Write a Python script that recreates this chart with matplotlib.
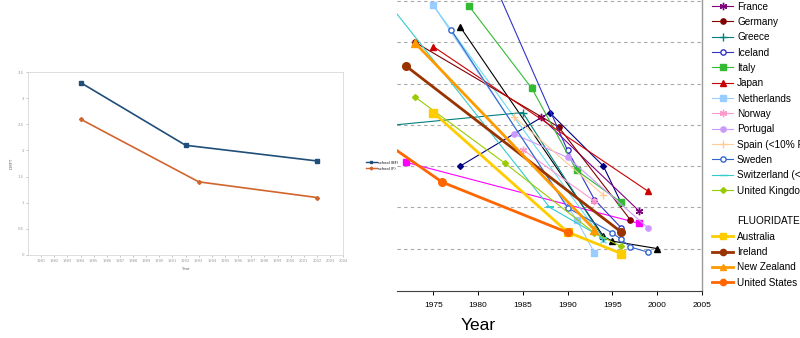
import numpy as np
import matplotlib
matplotlib.use("Agg")
import matplotlib.pyplot as plt
from matplotlib.lines import Line2D

### LEFT CHART DATA ###
bf_years = [1984, 1992, 2002]
bf_dmft = [3.3, 2.1, 1.8]
f_years = [1984, 1993, 2002]
f_dmft = [2.6, 1.4, 1.1]
left_xticks = list(range(1981, 2005))
left_yticks = [0, 0.5, 1, 1.5, 2, 2.5, 3, 3.5]

### RIGHT CHART DATA (DMFT of 12 year olds) ###
austria_yr = [1978, 1988, 1994, 1996]
austria_dmft = [3.0, 4.3, 3.0, 2.1]
belgium_yr = [1972, 1998]
belgium_dmft = [3.09, 1.61]
denmark_yr = [1978, 1994, 1995, 2000]
denmark_dmft = [6.38, 1.3, 1.18, 1.0]
finland_yr = [1975, 1994]
finland_dmft = [6.9, 1.2]
france_yr = [1987, 1998]
france_dmft = [4.19, 1.91]
germany_yr = [1973, 1989, 1997]
germany_dmft = [6.0, 3.95, 1.7]
greece_yr = [1966, 1985, 1994]
greece_dmft = [3.9, 4.3, 1.25]
iceland_yr = [1981, 1990, 1993, 1996]
iceland_dmft = [7.83, 3.38, 2.19, 1.5]
italy_yr = [1979, 1986, 1991, 1996]
italy_dmft = [6.88, 4.89, 2.9, 2.12]
japan_yr = [1975, 1999]
japan_dmft = [5.9, 2.39]
netherlands_yr = [1975, 1991, 1993]
netherlands_dmft = [6.9, 1.7, 0.9]
norway_yr = [1985, 1993]
norway_dmft = [3.4, 2.15]
portugal_yr = [1984, 1990, 1999]
portugal_dmft = [3.78, 3.21, 1.5]
spain_yr = [1984, 1994]
spain_dmft = [4.2, 2.3]
sweden_yr = [1977, 1990, 1995, 1996, 1997, 1999]
sweden_dmft = [6.3, 1.99, 1.38, 1.22, 1.04, 0.91]
switzerland_yr = [1970, 1988, 1994]
switzerland_dmft = [6.95, 2.0, 1.25]
uk_yr = [1973, 1983, 1993, 1996]
uk_dmft = [4.67, 3.07, 1.38, 1.05]

australia_yr = [1975, 1990, 1996]
australia_dmft = [4.3, 1.4, 0.88]
ireland_yr = [1972, 1996]
ireland_dmft = [5.42, 1.4]
nz_yr = [1973, 1993]
nz_dmft = [5.98, 1.46]
us_yr = [1970, 1976, 1990]
us_dmft = [3.52, 2.61, 1.39]

right_xticks = [1975, 1980, 1985, 1990, 1995, 2000, 2005]

fig = plt.figure(figsize=(8, 3.38), dpi=100)

### LEFT PANEL ###
ax1 = fig.add_axes([0.035, 0.2456, 0.394, 0.541])
ax1.plot(bf_years, bf_dmft, color='#1F4E79', lw=1.2, marker='s', ms=3)
ax1.plot(f_years, f_dmft, color='#D2642E', lw=1.2, marker='D', ms=2)
ax1.set_xlim(1980, 2004)
ax1.set_ylim(0, 3.5)
ax1.set_xticks(left_xticks)
ax1.set_xticklabels([str(y) for y in left_xticks], fontsize=2.6, color='#666666')
ax1.set_yticks(left_yticks)
ax1.set_yticklabels([('%g' % v) for v in left_yticks], fontsize=2.8, color='#666666')
ax1.tick_params(length=1.5, width=0.4, colors='#999999', pad=1.5)
for s in ax1.spines.values():
    s.set_color('#D8D8D8')
    s.set_linewidth(0.6)
ax1.set_xlabel('Year', fontsize=3, color='#666666', labelpad=3)
ax1.set_ylabel('DMFT', fontsize=3, color='#666666', labelpad=3)
fig.legend(handles=[Line2D([], [], color='#1F4E79', lw=1, marker='s', ms=2),
                    Line2D([], [], color='#D2642E', lw=1, marker='D', ms=1.5)],
           labels=['school (BF)', 'school (F)'], loc='center left',
           bbox_to_anchor=(0.455, 0.51), fontsize=2.6, frameon=False,
           handlelength=3, labelspacing=0.6, borderpad=0, handletextpad=0.5)

### RIGHT PANEL ###
ax2 = fig.add_axes([0.4963, 0.139, 0.381, 0.861])
thin = 0.8
thick = 2.0
sm = 3.8   # marker size, unfluoridated
bm = 5.5   # marker size, fluoridated

ax2.plot(austria_yr, austria_dmft, color='#000080', lw=thin, marker='D', ms=sm - 0.8)
ax2.plot(belgium_yr, belgium_dmft, color='#FF00FF', lw=thin, marker='s', ms=sm)
ax2.plot(denmark_yr, denmark_dmft, color='#000000', lw=thin, marker='^', ms=sm + 0.5)
ax2.plot(finland_yr, finland_dmft, color='#66DDEE', lw=thin, marker='x', ms=sm + 0.5)
ax2.plot(france_yr, france_dmft, color='#800080', lw=thin, marker=(6, 2, 0), ms=sm + 1.5)
ax2.plot(germany_yr, germany_dmft, color='#800000', lw=thin, marker='o', ms=sm)
ax2.plot(greece_yr, greece_dmft, color='#008080', lw=thin, marker='+', ms=sm + 1.5)
ax2.plot(iceland_yr, iceland_dmft, color='#3333CC', lw=thin, marker='o', ms=sm, mfc='white')
ax2.plot(italy_yr, italy_dmft, color='#33BB33', lw=thin, marker='s', ms=sm)
ax2.plot(japan_yr, japan_dmft, color='#CC0000', lw=thin, marker='^', ms=sm + 0.5)
ax2.plot(netherlands_yr, netherlands_dmft, color='#99CCFF', lw=thin, marker='s', ms=sm)
ax2.plot(norway_yr, norway_dmft, color='#FF99CC', lw=thin, marker=(6, 2, 0), ms=sm + 1.5)
ax2.plot(portugal_yr, portugal_dmft, color='#CC99FF', lw=thin, marker='o', ms=sm)
ax2.plot(spain_yr, spain_dmft, color='#FFCC99', lw=thin, marker='+', ms=sm + 1.5)
ax2.plot(sweden_yr, sweden_dmft, color='#3366CC', lw=thin, marker='o', ms=sm, mfc='white')
ax2.plot(switzerland_yr, switzerland_dmft, color='#33CCCC', lw=thin, marker='_', ms=sm + 1.5, mew=1.5)
ax2.plot(uk_yr, uk_dmft, color='#99CC00', lw=thin, marker='D', ms=sm - 0.8)

ax2.plot(australia_yr, australia_dmft, color='#FFCC00', lw=thick, marker='s', ms=bm)
ax2.plot(ireland_yr, ireland_dmft, color='#993300', lw=thick, marker='o', ms=bm)
ax2.plot(nz_yr, nz_dmft, color='#FF9900', lw=thick, marker='^', ms=bm + 0.5)
ax2.plot(us_yr, us_dmft, color='#FF6600', lw=thick, marker='o', ms=bm)

ax2.set_xlim(1970.95, 2004.96)
ax2.set_ylim(-0.03, 7.03)
ax2.set_yticks([])
ax2.set_xticks(right_xticks)
ax2.set_xticklabels([str(y) for y in right_xticks], fontsize=6, family='Liberation Sans')
ax2.tick_params(axis='x', direction='out', length=3, width=0.7, pad=5)
for g in [1, 2, 3, 4, 5, 6, 7]:
    ax2.axhline(g, color='#A8A8A8', lw=0.8, ls=(0, (3, 3)), zorder=0)
ax2.spines['left'].set_visible(False)
ax2.spines['top'].set_visible(False)
ax2.spines['right'].set_color('#9A9A9A')
ax2.spines['right'].set_linewidth(1.0)
ax2.spines['bottom'].set_color('#404040')
ax2.spines['bottom'].set_linewidth(0.8)
fig.text(478 / 800, 1 - 325 / 338, 'Year', fontsize=12.5, family='Liberation Sans',
         ha='center', va='center')

def entry(color, marker, lw=thin, ms=3.8, mfc=None):
    return Line2D([], [], color=color, lw=lw, marker=marker, ms=ms,
                  mfc=mfc if mfc else color)

handles = [entry('#800080', (6, 2, 0), ms=5.3), entry('#800000', 'o'),
           entry('#008080', '+', ms=5.3), entry('#3333CC', 'o', mfc='white'),
           entry('#33BB33', 's'), entry('#CC0000', '^', ms=4.3),
           entry('#99CCFF', 's'), entry('#FF99CC', (6, 2, 0), ms=5.3),
           entry('#CC99FF', 'o'), entry('#FFCC99', '+', ms=5.3),
           entry('#3366CC', 'o', mfc='white'), entry('#33CCCC', '_', ms=5.3),
           entry('#99CC00', 'D', ms=3),
           Line2D([], [], ls='none'), Line2D([], [], ls='none'),
           entry('#FFCC00', 's', lw=thick, ms=4.5), entry('#993300', 'o', lw=thick, ms=4.5),
           entry('#FF9900', '^', lw=thick, ms=4.5), entry('#FF6600', 'o', lw=thick, ms=4.5)]
labels = ['France', 'Germany', 'Greece', 'Iceland', 'Italy', 'Japan', 'Netherlands',
          'Norway', 'Portugal', 'Spain (<10% F)', 'Sweden', 'Switzerland (<3% F)',
          'United Kingdom', '', 'FLUORIDATED', 'Australia', 'Ireland',
          'New Zealand', 'United States']
leg = ax2.legend(handles, labels, loc='upper left', bbox_to_anchor=(712 / 800, 1 - 1.5 / 338),
                 bbox_transform=fig.transFigure, frameon=False, borderpad=0,
                 borderaxespad=0, handlelength=2.1, handletextpad=0.4,
                 labelspacing=0.535, prop={'family': 'Liberation Sans', 'size': 7.2})

fig.savefig('out.png', dpi=100)
